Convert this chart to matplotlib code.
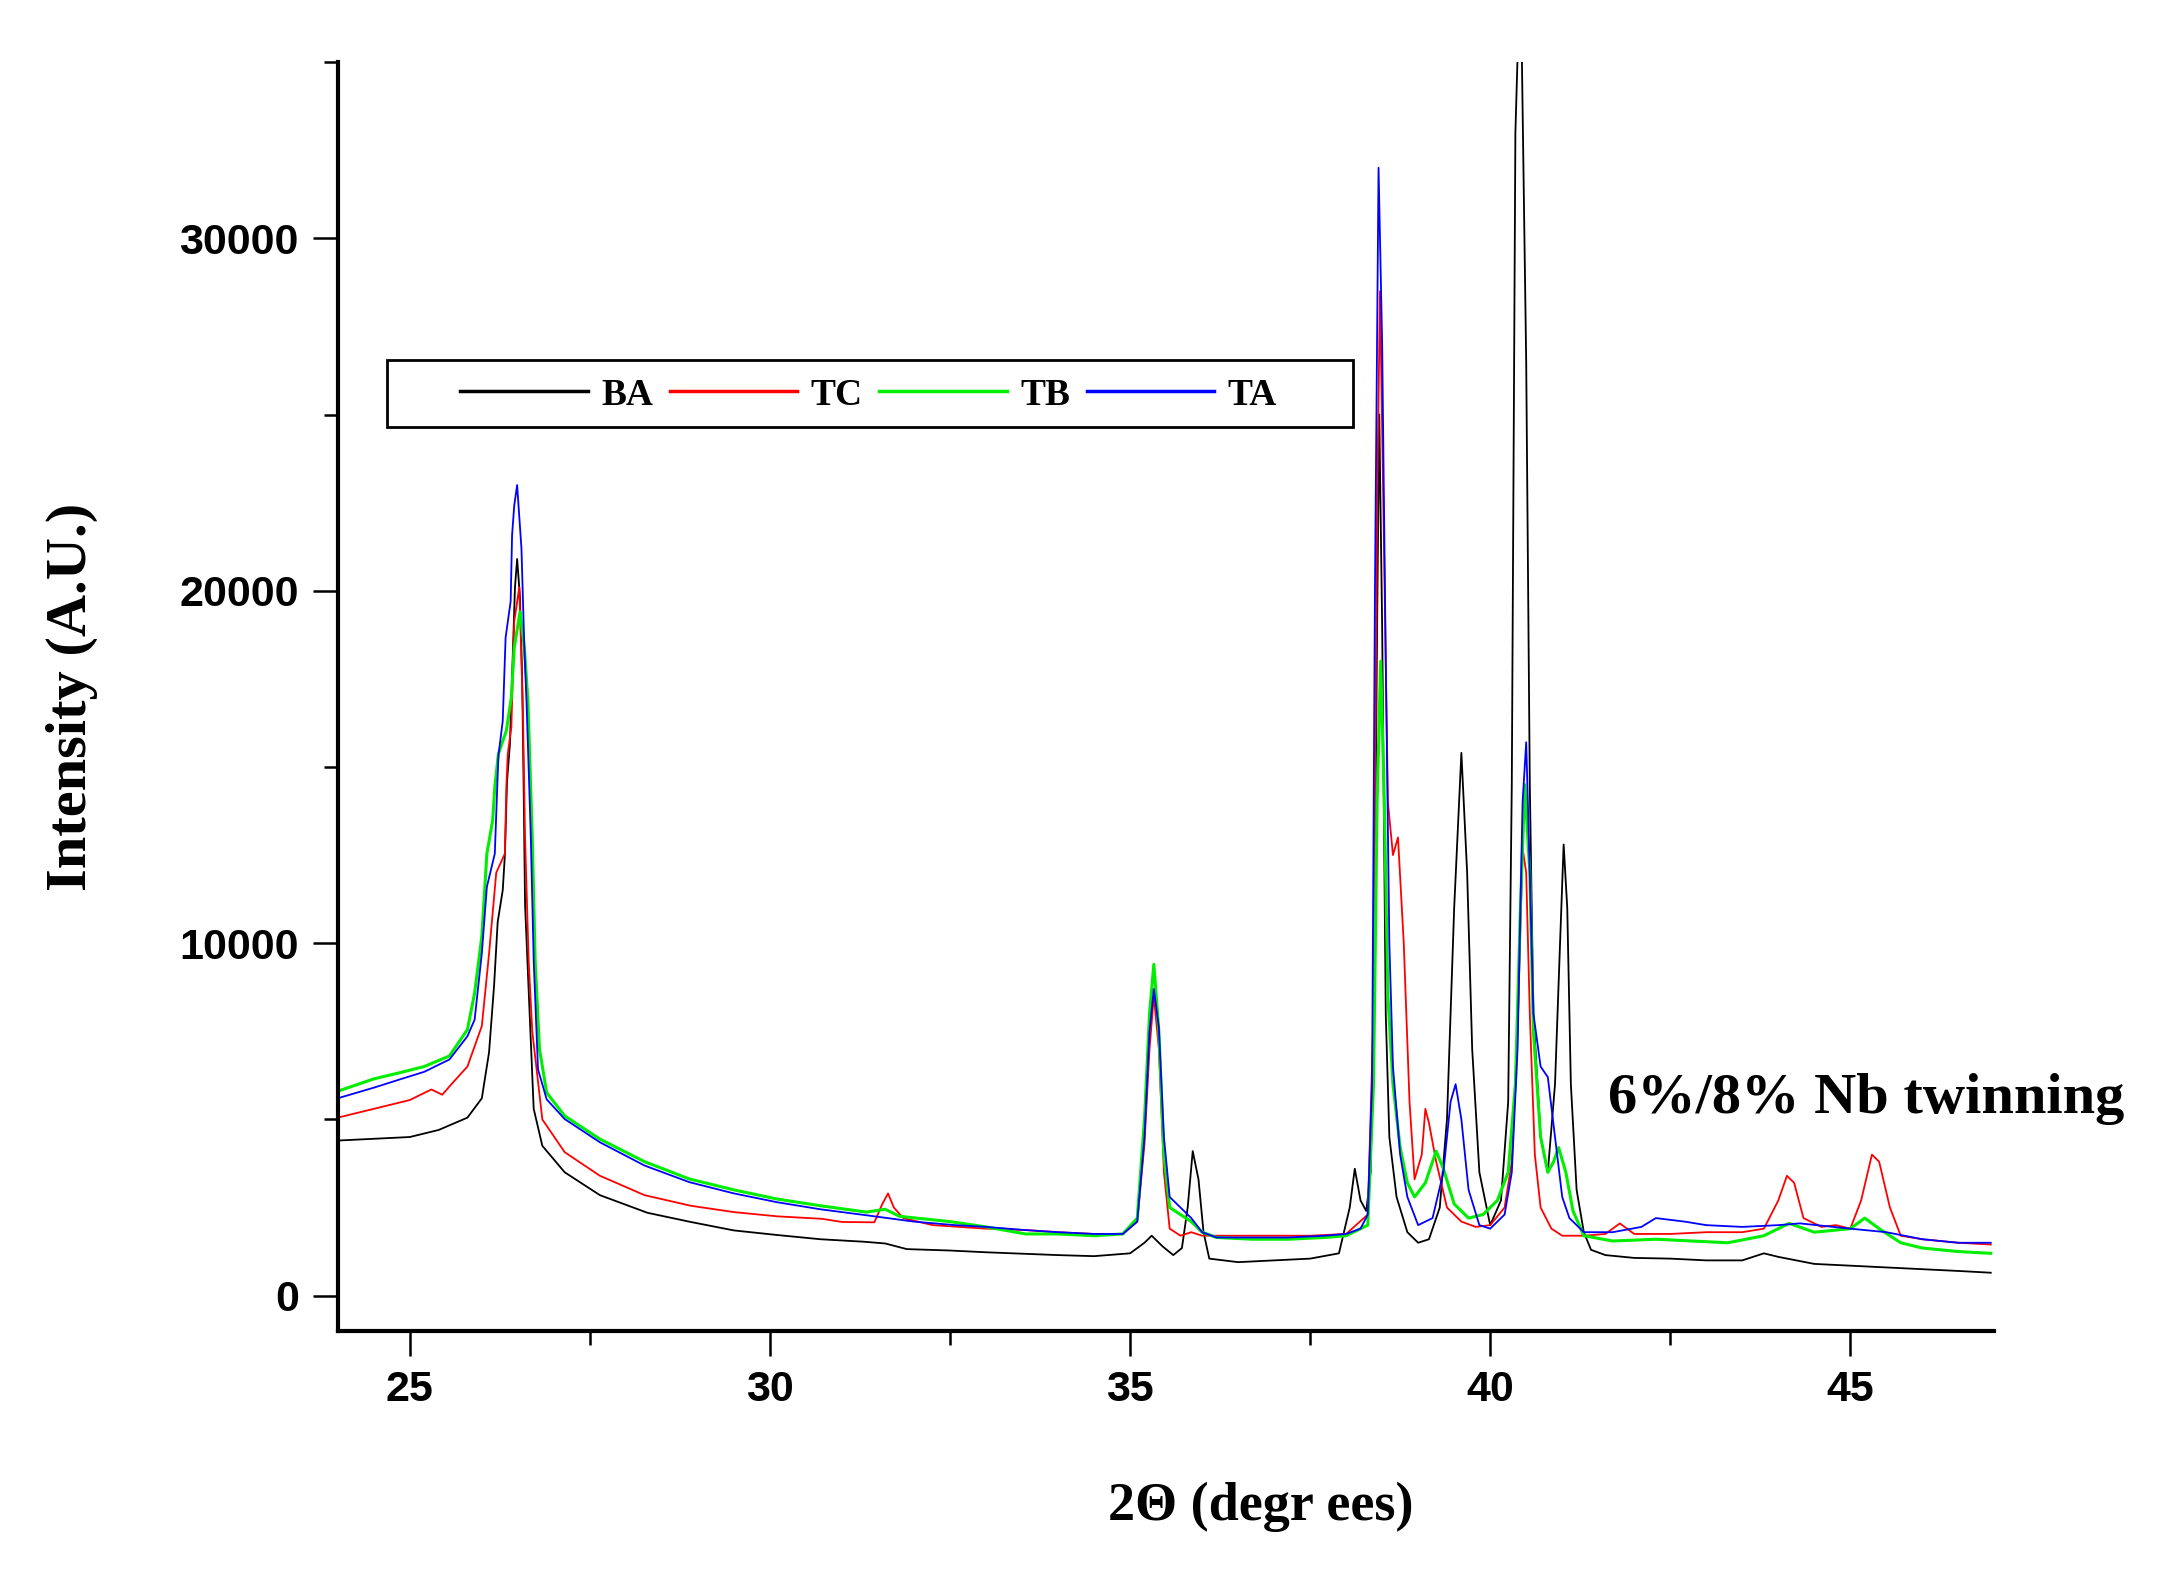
import numpy as np
import matplotlib
matplotlib.use('Agg')
from matplotlib import pyplot as plt
from matplotlib.patches import Rectangle
from matplotlib.ticker import MultipleLocator

# values (2theta, intensity)
ba_x = [24.0, 24.5, 25.0, 25.4, 25.8, 26.0, 26.1, 26.17, 26.22, 26.29, 26.32, 26.35, 26.39, 26.43,
        26.46, 26.49, 26.53, 26.56, 26.58, 26.6, 26.67, 26.72, 26.84, 27.15, 27.64, 28.3, 28.9,
        29.5, 30.1, 30.7, 31.3, 31.6, 31.9, 32.5, 33.0, 33.5, 34.0, 34.5, 35.0, 35.2, 35.3, 35.45,
        35.6, 35.72, 35.8, 35.87, 35.95, 36.02, 36.1, 36.5, 37.0, 37.5, 37.9, 38.05, 38.12, 38.2,
        38.28, 38.34, 38.39, 38.43, 38.46, 38.5, 38.55, 38.6, 38.7, 38.85, 39.0, 39.15, 39.3, 39.4,
        39.5, 39.6, 39.68, 39.75, 39.85, 40.0, 40.15, 40.25, 40.3, 40.35, 40.42, 40.5, 40.55, 40.6,
        40.7, 40.8, 40.9, 40.97, 41.02, 41.07, 41.12, 41.2, 41.3, 41.4, 41.6, 42.0, 42.5, 43.0,
        43.5, 43.8, 44.0, 44.5, 45.0, 45.5, 46.0, 46.5, 46.95]
ba_y = [4400, 4450, 4500, 4700, 5050, 5600, 6900, 8800, 10600, 11500, 12500, 14600, 15650, 18200,
        20100, 20900, 19800, 17500, 14500, 11100, 7700, 5300, 4250, 3500, 2850, 2350, 2090,
        1850, 1720, 1600, 1530, 1480, 1320, 1280, 1230, 1190, 1150, 1120, 1200, 1500, 1700, 1400,
        1150, 1350, 2500, 4100, 3300, 1800, 1050, 950, 1000, 1050, 1200, 2500, 3600, 2700,
        2400, 3500, 9000, 19000, 25000, 19000, 8000, 4500, 2800, 1800, 1500, 1600, 2500, 5000,
        11000, 15400, 12000, 7000, 3500, 2000, 2700, 5500, 14500, 33000, 38000, 26500, 14500, 8000,
        4500, 3500, 6000, 10000, 12800, 11000, 6000, 3000, 1800, 1300, 1150, 1070, 1050, 1000,
        1000, 1200, 1100, 900, 850, 800, 750, 700, 650]

tc_x = [24.0, 24.5, 25.0, 25.3, 25.45, 25.6, 25.8, 26.0, 26.1, 26.2, 26.32, 26.34, 26.36, 26.41,
        26.45, 26.52, 26.57, 26.6, 26.65, 26.7, 26.84, 27.15, 27.64, 28.26, 28.9, 29.5, 30.1,
        30.72, 31.0, 31.45, 31.56, 31.64, 31.72, 31.85, 32.26, 33.0, 33.55, 34.0, 34.5, 34.9, 35.1,
        35.2, 35.27, 35.33, 35.4, 35.47, 35.55, 35.7, 35.85, 36.0, 36.5, 37.0, 37.5, 38.0, 38.3,
        38.38, 38.43, 38.47, 38.52, 38.58, 38.65, 38.72, 38.8, 38.88, 38.95, 39.05, 39.1, 39.15,
        39.25, 39.4, 39.6, 39.8, 40.0, 40.2, 40.3, 40.38, 40.45, 40.5, 40.55, 40.62, 40.7, 40.85,
        41.0, 41.3, 41.6, 41.8, 42.0, 42.5, 43.0, 43.5, 43.8, 44.0, 44.12, 44.22, 44.35, 44.6,
        44.8, 45.0, 45.15, 45.3, 45.4, 45.55, 45.7, 46.0, 46.5, 46.95]
tc_y = [5050, 5300, 5550, 5850, 5700, 6050, 6500, 7650, 9700, 12000, 12540, 14430, 15370, 16130,
        19130, 20100, 16600, 13000, 9500, 7500, 5000, 4070, 3400, 2850, 2550, 2370, 2250,
        2180, 2090, 2080, 2600, 2900, 2500, 2200, 2000, 1900, 1860, 1800, 1750, 1750, 2100,
        4300, 7000, 8500, 7000, 3500, 1900, 1700, 1800, 1700, 1700, 1700, 1700, 1750, 2300,
        8000, 22500, 28500, 22000, 14000, 12500, 13000, 10000, 5500, 3300, 4000, 5300, 4900,
        3800, 2500, 2100, 1950, 2000, 2500, 3800, 7500, 12700, 12000, 8000, 4000, 2500, 1900,
        1700, 1700, 1750, 2050, 1750, 1750, 1800, 1800, 1900, 2700, 3400, 3200, 2200, 1950,
        2000, 1900, 2700, 4000, 3800, 2500, 1700, 1600, 1500, 1450]

tb_x = [24.0, 24.5, 24.87, 25.2, 25.55, 25.8, 25.9, 26.0, 26.07, 26.15, 26.18, 26.23, 26.34, 26.41,
        26.45, 26.53, 26.59, 26.64, 26.7, 26.74, 26.8, 26.9, 27.15, 27.64, 28.26, 28.88, 29.5,
        30.1, 30.7, 31.34, 31.6, 31.8, 32.5, 33.0, 33.55, 34.0, 34.5, 34.9, 35.1, 35.2, 35.27,
        35.33, 35.4, 35.47, 35.55, 35.7, 35.85, 36.0, 36.2, 36.7, 37.2, 37.7, 38.0, 38.3, 38.38,
        38.43, 38.48, 38.53, 38.58, 38.65, 38.75, 38.85, 38.95, 39.1, 39.25, 39.35, 39.5, 39.7,
        39.9, 40.1, 40.25, 40.35, 40.42, 40.48, 40.55, 40.6, 40.7, 40.8, 40.88, 40.95, 41.05,
        41.15, 41.3, 41.7, 42.3, 42.8, 43.3, 43.8, 44.15, 44.5, 45.0, 45.2, 45.4, 45.7, 46.0,
        46.5, 46.95]
tb_y = [5800, 6150, 6330, 6500, 6800, 7550, 8590, 10200, 12540, 13480, 14430, 15370, 16030, 16970,
        18390, 19400, 18400, 16870, 13000, 9500, 7000, 5760, 5100, 4440, 3800, 3310, 3000,
        2740, 2550, 2370, 2450, 2250, 2100, 1950, 1750, 1750, 1700, 1750, 2200, 5000, 8000,
        9400, 7500, 4000, 2500, 2300, 2100, 1800, 1650, 1600, 1600, 1650, 1700, 2000, 6000,
        14000, 18000, 14000, 8500, 6000, 4200, 3200, 2800, 3200, 4100, 3600, 2600, 2200,
        2300, 2700, 3500, 6000, 11000, 14500, 12000, 7500, 4500, 3500, 3800, 4200, 3500,
        2400, 1700, 1550, 1600, 1550, 1500, 1700, 2050, 1800, 1900, 2200, 1900, 1500, 1350,
        1250, 1200]

ta_x = [24.0, 24.5, 24.87, 25.2, 25.55, 25.8, 25.9, 26.0, 26.07, 26.18, 26.23, 26.29, 26.33, 26.4,
        26.42, 26.45, 26.49, 26.55, 26.59, 26.62, 26.66, 26.68, 26.72, 26.78, 26.9, 27.15, 27.64,
        28.26, 28.88, 29.5, 30.1, 30.7, 31.34, 32.0, 32.57, 33.0, 33.55, 34.0, 34.5, 34.9, 35.1,
        35.2, 35.27, 35.33, 35.4, 35.47, 35.55, 35.7, 35.85, 36.0, 36.2, 36.7, 37.2, 37.7, 38.0,
        38.2, 38.3, 38.36, 38.4, 38.45, 38.5, 38.55, 38.6, 38.65, 38.75, 38.85, 39.0, 39.2, 39.35,
        39.45, 39.52, 39.6, 39.7, 39.85, 40.0, 40.2, 40.3, 40.38, 40.45, 40.5, 40.55, 40.6, 40.7,
        40.8, 40.9, 41.0, 41.1, 41.3, 41.7, 42.1, 42.3, 42.7, 43.0, 43.5, 44.0, 44.3, 45.0,
        45.5, 46.0, 46.5, 46.95]
ta_y = [5600, 5900, 6140, 6350, 6700, 7360, 7830, 9720, 11600, 12540, 15320, 16300, 18670, 19700,
        21580, 22420, 23000, 21200, 18400, 16870, 14330, 13000, 9500, 6420, 5570, 5010, 4350,
        3690, 3220, 2900, 2650, 2450, 2280, 2100, 2000, 1950, 1860, 1800, 1750, 1750, 2100,
        4500, 7500, 8700, 7600, 4500, 2800, 2500, 2200, 1800, 1650, 1650, 1650, 1700, 1750,
        1900, 2300, 6000, 20000, 32000, 27000, 18000, 10000, 6500, 4000, 2800, 2000, 2200, 3500,
        5500, 6000, 5000, 3000, 2000, 1900, 2300, 3500, 7000, 14000, 15700, 12000, 8000, 6500,
        6200, 4500, 2800, 2200, 1800, 1800, 1950, 2200, 2100, 2000, 1950, 2000, 2050, 1900,
        1800, 1600, 1500, 1500]

names = ['BA', 'TC', 'TB', 'TA']
colors = ['#000000', '#ff0000', '#00ee00', '#0000ff']

serif = 'Liberation Serif'
sans = 'Liberation Sans'

fig = plt.figure(figsize=(21.57, 15.75), dpi=100)
ax = fig.add_axes([0.1566, 0.155, 0.768, 0.8056])

series = [(ba_x, ba_y), (tc_x, tc_y), (tb_x, tb_y), (ta_x, ta_y)]
widths = [1.3, 1.3, 2.2, 1.3]
for (xs, ys), name, c, lw in zip(series, names, colors, widths):
    ax.plot(xs, ys, color=c, lw=lw, label=name)

ax.set_xlim(24, 47)
ax.set_ylim(-1000, 35000)
ax.xaxis.set_major_locator(MultipleLocator(5))
ax.xaxis.set_minor_locator(MultipleLocator(2.5))
ax.yaxis.set_major_locator(MultipleLocator(10000))
ax.yaxis.set_minor_locator(MultipleLocator(5000))

for s in ['top', 'right']:
    ax.spines[s].set_visible(False)
for s in ['left', 'bottom']:
    ax.spines[s].set_linewidth(3)

ax.tick_params(which='major', direction='out', length=18, width=1.8, pad=10)
ax.tick_params(which='minor', direction='out', length=10, width=1.8)
for lab in ax.get_xticklabels() + ax.get_yticklabels():
    lab.set_fontfamily(sans)
    lab.set_fontweight('bold')
    lab.set_fontsize(31)

ax.set_xlabel('2Θ (degr ees)', fontfamily=serif, fontweight='bold', fontsize=39, va='top')
ax.set_ylabel('Intensity (A.U.)', fontfamily=serif, fontweight='bold', fontsize=42)
ax.xaxis.set_label_coords(0.557, -0.119)
ax.yaxis.set_label_coords(-0.145, 0.5)

# legend: box drawn separately, entries packed tight like the reference
box = Rectangle((0.030, 0.712), 0.583, 0.053, transform=ax.transAxes, fill=True,
                facecolor='white', edgecolor='black', lw=2, zorder=5)
ax.add_patch(box)
leg = ax.legend(loc='center left', bbox_to_anchor=(0.074, 0.7375), ncol=4, frameon=False,
                borderpad=0, borderaxespad=0, handlelength=3.4, handletextpad=0.35,
                columnspacing=0.45, prop={'family': serif, 'weight': 'bold', 'size': 27})
leg.set_zorder(6)
for line in leg.get_lines():
    line.set_linewidth(2.5)

ax.text(0.767, 0.1825, '6%/8% Nb twinning', transform=ax.transAxes, va='center', ha='left',
        fontfamily=serif, fontweight='bold', fontsize=42, clip_on=False)

fig.savefig('out.png', dpi=100)
